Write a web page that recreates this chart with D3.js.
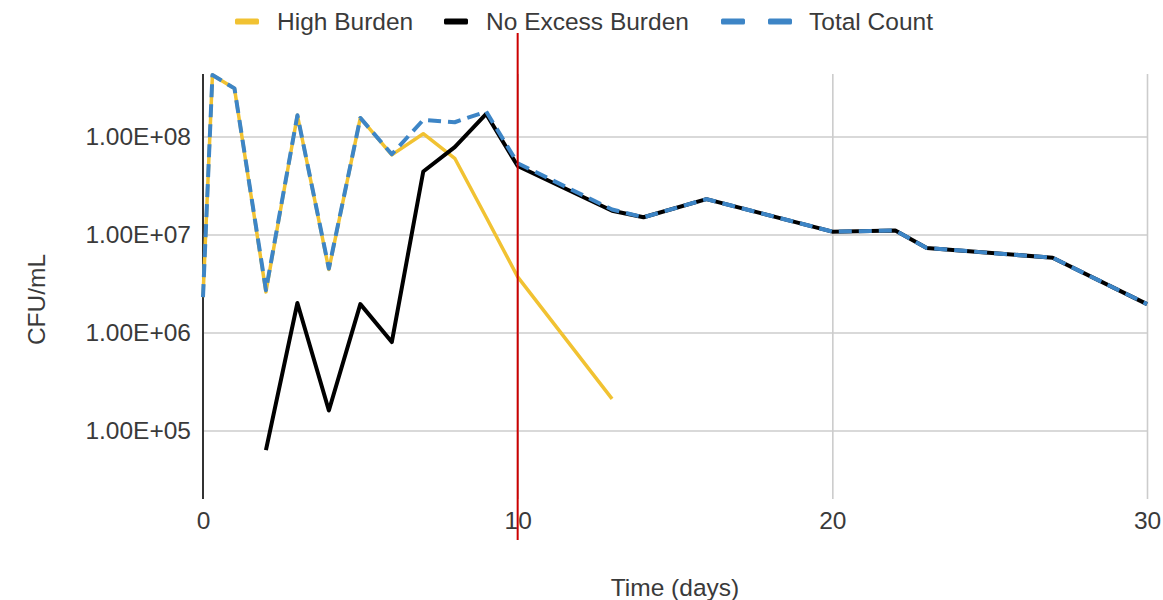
<!DOCTYPE html>
<html>
<head>
<meta charset="utf-8">
<script src="https://cdn.jsdelivr.net/npm/d3@7"></script>
<style>
  html, body { margin: 0; padding: 0; background: #fff; }
  svg { display: block; font-family: "Liberation Sans", Arial, sans-serif; }
</style>
</head>
<body>
<svg id="chart" width="1163" height="600"></svg>
<script>
// ---- data ----
const seriesNames = ["High Burden", "No Excess Burden", "Total Count"];
const seriesColors = ["#f1c232", "#000000", "#3d85c6"];

const highDays = [0, 0.3, 1, 2, 3, 4, 5, 6, 7, 8, 9, 10, 13];
const highValues = [2.3e6, 4.25e8, 3.1e8, 2.6e6, 1.65e8, 4.4e6, 1.55e8, 6.5e7, 1.07e8, 6.0e7, 1.5e7, 3.7e6, 2.1e5];

const noExcessDays = [2, 3, 4, 5, 6, 7, 8, 9, 10, 13, 14, 16, 20, 22, 23, 27, 30];
const noExcessValues = [6.3e4, 2.0e6, 1.6e5, 1.95e6, 8.0e5, 4.4e7, 7.8e7, 1.7e8, 5.0e7, 1.75e7, 1.5e7, 2.3e7, 1.07e7, 1.1e7, 7.3e6, 5.8e6, 1.95e6];

const totalDays = [0, 0.3, 1, 2, 3, 4, 5, 6, 7, 8, 9, 10, 13, 14, 16, 20, 22, 23, 27, 30];
const totalValues = [2.3e6, 4.25e8, 3.1e8, 2.7e6, 1.65e8, 4.5e6, 1.55e8, 6.6e7, 1.48e8, 1.4e8, 1.8e8, 5.35e7, 1.8e7, 1.5e7, 2.3e7, 1.07e7, 1.1e7, 7.3e6, 5.8e6, 1.95e6];

const xTicks = [0, 10, 20, 30];
const yTicks = [1e5, 1e6, 1e7, 1e8];
const yTickLabels = ["1.00E+05", "1.00E+06", "1.00E+07", "1.00E+08"];
const markerDay = 10;

const xTitle = "Time (days)";
const yTitle = "CFU/mL";

// ---- layout ----
const svg = d3.select("#chart");
const pLeft = 203, pRight = 1147, pTop = 74, pBottom = 499;

const x = d3.scaleLinear().domain([0, 30]).range([pLeft, pRight]);
const y = d3.scaleLog().domain([2.0e4, 4.35e8]).range([pBottom, pTop]);

const textColor = "#3a3a3a";
const fontSize = 24.5;

// horizontal gridlines
svg.append("g")
  .attr("transform", `translate(${pLeft},0)`)
  .call(d3.axisLeft(y).tickValues(yTicks).tickSize(-(pRight - pLeft)).tickFormat(""))
  .call(g => g.select(".domain").remove())
  .call(g => g.selectAll("line").attr("stroke", "#cccccc").attr("stroke-width", 1.6));

// vertical gridlines
svg.append("g")
  .attr("transform", `translate(0,${pBottom})`)
  .call(d3.axisBottom(x).tickValues(xTicks.filter(d => d > 0)).tickSize(-(pBottom - pTop)).tickFormat(""))
  .call(g => g.select(".domain").remove())
  .call(g => g.selectAll("line").attr("stroke", "#cccccc").attr("stroke-width", 1.6));

// y tick labels
svg.append("g")
  .attr("transform", `translate(${pLeft - 12},0)`)
  .call(d3.axisLeft(y).tickValues(yTicks).tickSize(0).tickPadding(0)
        .tickFormat((d, i) => yTickLabels[i]))
  .call(g => g.select(".domain").remove())
  .call(g => g.selectAll("text")
     .attr("fill", textColor).attr("font-size", fontSize)
     .attr("font-family", "Liberation Sans, Arial, sans-serif"));

// x tick labels
svg.append("g")
  .attr("transform", `translate(0,${pBottom + 13})`)
  .call(d3.axisBottom(x).tickValues(xTicks).tickSize(0).tickPadding(0).tickFormat(d3.format("d")))
  .call(g => g.select(".domain").remove())
  .call(g => g.selectAll("text")
     .attr("fill", textColor).attr("font-size", fontSize)
     .attr("font-family", "Liberation Sans, Arial, sans-serif"));

// y axis line
svg.append("line")
  .attr("x1", x(0)).attr("x2", x(0)).attr("y1", pTop).attr("y2", pBottom)
  .attr("stroke", "#333333").attr("stroke-width", 2);

// axis titles
svg.append("text")
  .attr("x", (pLeft + pRight) / 2).attr("y", 596)
  .attr("text-anchor", "middle").attr("fill", textColor).attr("font-size", fontSize)
  .text(xTitle);

svg.append("text")
  .attr("transform", `translate(45,${(pTop + pBottom) / 2 + 13}) rotate(-90)`)
  .attr("text-anchor", "middle").attr("fill", textColor).attr("font-size", fontSize)
  .text(yTitle);

// lines
const line = d3.line().x(d => x(d[0])).y(d => y(d[1]));
const zip = (a, b) => a.map((d, i) => [d, b[i]]);

const plot = svg.append("g");
plot.append("path")
  .datum(zip(highDays, highValues))
  .attr("d", line).attr("fill", "none")
  .attr("stroke", seriesColors[0]).attr("stroke-width", 3.5)
  .attr("stroke-linejoin", "round");

plot.append("path")
  .datum(zip(noExcessDays, noExcessValues))
  .attr("d", line).attr("fill", "none")
  .attr("stroke", seriesColors[1]).attr("stroke-width", 4)
  .attr("stroke-linejoin", "round");

plot.append("path")
  .datum(zip(totalDays, totalValues))
  .attr("d", line).attr("fill", "none")
  .attr("stroke", seriesColors[2]).attr("stroke-width", 4)
  .attr("stroke-dasharray", "13,7")
  .attr("stroke-linejoin", "round");

// red marker line
svg.append("line")
  .attr("x1", x(markerDay)).attr("x2", x(markerDay))
  .attr("y1", 33).attr("y2", 540)
  .attr("stroke", "#cc0000").attr("stroke-width", 2);

// legend
const legendItems = [
  { name: seriesNames[0], color: seriesColors[0], sx: 235, tx: 277, dashed: false },
  { name: seriesNames[1], color: seriesColors[1], sx: 444, tx: 486, dashed: false },
  { name: seriesNames[2], color: seriesColors[2], sx: 721, tx: 809, dashed: true }
];
const legend = svg.append("g");
legendItems.forEach(it => {
  if (it.dashed) {
    [0, 47].forEach(off => {
      legend.append("rect").attr("x", it.sx + off).attr("y", 18.5).attr("width", 24).attr("height", 6)
        .attr("rx", 1.5).attr("fill", it.color);
    });
  } else {
    legend.append("rect").attr("x", it.sx).attr("y", 18.5).attr("width", 24).attr("height", 6)
      .attr("rx", 1.5).attr("fill", it.color);
  }
  legend.append("text").attr("x", it.tx).attr("y", 30)
    .attr("fill", textColor).attr("font-size", fontSize).text(it.name);
});
</script>
</body>
</html>
